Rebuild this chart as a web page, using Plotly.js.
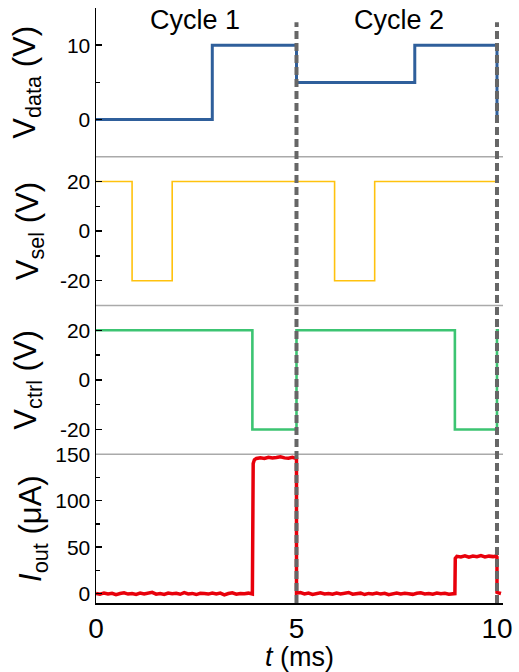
<!DOCTYPE html>
<html>
<head>
<meta charset="utf-8">
<script src="https://cdn.plot.ly/plotly-3.0.1.min.js"></script>
<style>html,body{margin:0;padding:0;background:#fff;}#chart{width:519px;height:672px;}</style>
</head>
<body>
<div id="chart"></div>
<script>
// ---- data (time in ms) ----
var tData = [0, 2.9, 5, 7.95, 10, 10.05];
var vData = [0, 10, 5, 10, 0, 0];

var tSel = [0, 0.9, 1.9, 5.95, 6.95, 10.05];
var vSel = [20, -20, 20, -20, 20, 20];

var tCtrl = [0, 3.9, 5, 8.95, 10, 10.05];
var vCtrl = [20, -20, 20, -20, 20, 20];

var tOut = [0,0.1,0.2,0.3,0.4,0.5,0.6,0.7,0.8,0.9,1.0,1.1,1.2,1.3,1.4,1.5,1.6,1.7,1.8,1.9,
            2.0,2.1,2.2,2.3,2.4,2.5,2.6,2.7,2.8,2.9,3.0,3.1,3.2,3.3,3.4,3.5,3.6,3.7,3.8,3.9,
            3.92,3.95,4.0,4.1,4.2,4.3,4.4,4.5,4.6,4.7,4.8,4.9,4.98,5.0,
            5.0,5.1,5.2,5.3,5.4,5.5,5.6,5.7,5.8,5.9,6.0,6.1,6.2,6.3,6.4,6.5,6.6,6.7,6.8,6.9,
            7.0,7.1,7.2,7.3,7.4,7.5,7.6,7.7,7.8,7.9,8.0,8.1,8.2,8.3,8.4,8.5,8.6,8.7,8.8,8.9,8.95,
            8.96,9.0,9.1,9.2,9.3,9.4,9.5,9.6,9.7,9.8,9.9,9.98,10.0,
            10.0,10.05,10.1];
var iOut = [0.3,-0.6,0.8,-0.2,0.5,-1.0,0.2,0.9,-0.4,0.1,-0.7,0.6,-0.3,0.4,1.5,-0.5,0.2,-0.8,0.7,0.0,
            0.4,-0.6,1.1,-0.2,0.3,-0.9,0.5,0.1,-0.4,0.8,-0.3,0.6,-1.2,0.2,0.9,-0.5,0.3,-0.1,0.6,-0.4,
            140,144,145.5,146.2,145.4,146.8,145.9,146.5,147.3,146.1,145.7,146.6,145.9,145.2,
            0.5,1.2,-0.3,0.6,-0.8,0.4,1.0,-0.2,0.3,-0.6,0.7,-0.4,0.2,1.3,-0.5,0.1,0.6,-0.9,0.3,-0.2,
            0.8,-0.4,0.5,-1.1,0.2,0.6,-0.3,0.4,0.0,-0.7,0.5,0.9,-0.2,0.3,-0.5,0.7,-0.1,0.4,-0.6,0.2,0.1,
            38,40.2,39.5,40.8,39.2,40.5,39.8,41.0,39.6,40.4,39.9,40.6,39.4,
            1.5,0.8,0.2];

var xTickVals = [0, 5, 10];
var xTickText = ['0', '5', '10'];
var y1TickVals = [0, 10];      var y1TickText = ['0', '10'];
var y2TickVals = [-20, 0, 20]; var y2TickText = ['-20', '0', '20'];
var y3TickVals = [-20, 0, 20]; var y3TickText = ['-20', '0', '20'];
var y4TickVals = [0, 50, 100, 150]; var y4TickText = ['0', '50', '100', '150'];
var cycleLabels = ['Cycle 1', 'Cycle 2'];
var cycleCenters = [2.47, 7.55];
var cycleBoundaries = [5, 10];

var FONT = 'Liberation Sans, Arial, sans-serif';

var traces = [
  {x: tData, y: vData, xaxis: 'x', yaxis: 'y', mode: 'lines', line: {shape: 'hv', color: '#2f5f9b', width: 3}, hoverinfo: 'skip'},
  {x: tSel, y: vSel, xaxis: 'x', yaxis: 'y2', mode: 'lines', line: {shape: 'hv', color: '#ffc20e', width: 1.6}, hoverinfo: 'skip'},
  {x: tCtrl, y: vCtrl, xaxis: 'x', yaxis: 'y3', mode: 'lines', line: {shape: 'hv', color: '#3cc472', width: 2.6}, hoverinfo: 'skip'},
  {x: tOut, y: iOut, xaxis: 'x', yaxis: 'y4', mode: 'lines', line: {color: '#e8000b', width: 3.5}, hoverinfo: 'skip'}
];

function yax(domain, range, vals, text, minorDtick, title, standoff) {
  return {
    domain: domain, range: range, tickmode: 'array', tickvals: vals, ticktext: text,
    ticks: 'inside', ticklen: 6, tickwidth: 1.5, tickcolor: '#000',
    minor: {ticks: 'inside', ticklen: 3.5, tickwidth: 1.5, tickcolor: '#000', dtick: minorDtick, tick0: 0, showgrid: false},
    showline: true, linecolor: '#000', linewidth: 1.5, showgrid: false, zeroline: false,
    tickfont: {family: FONT, size: 21, color: '#000'}, anchor: 'x', fixedrange: true,
    title: {text: title, font: {family: FONT, size: 31, color: '#000'}, standoff: standoff}
  };
}

var shapes = [
  {type: 'line', xref: 'paper', yref: 'paper', x0: 0, x1: 1, y0: 0.25, y1: 0.25, line: {color: '#aaaaaa', width: 1.5}, layer: 'below'},
  {type: 'line', xref: 'paper', yref: 'paper', x0: 0, x1: 1, y0: 0.5, y1: 0.5, line: {color: '#aaaaaa', width: 1.5}, layer: 'below'},
  {type: 'line', xref: 'paper', yref: 'paper', x0: 0, x1: 1, y0: 0.75, y1: 0.75, line: {color: '#aaaaaa', width: 1.5}, layer: 'below'}
];
cycleBoundaries.forEach(function (b) {
  shapes.push({type: 'line', xref: 'x', yref: 'paper', x0: b, x1: b, y0: 0, y1: 0.976,
    line: {color: '#666666', width: 4, dash: '8px,4px'}, layer: 'above'});
});

var annotations = cycleLabels.map(function (lab, i) {
  return {text: lab, x: cycleCenters[i], xref: 'x', y: 0.98, yref: 'paper', showarrow: false,
    xanchor: 'center', yanchor: 'middle', font: {family: FONT, size: 27, color: '#000'}};
});

var layout = {
  width: 519, height: 672,
  margin: {l: 96, r: 16, t: 8, b: 69},
  paper_bgcolor: '#fff', plot_bgcolor: 'rgba(0,0,0,0)',
  showlegend: false,
  xaxis: {
    range: [0, 10.15], anchor: 'y4', tickmode: 'array', tickvals: xTickVals, ticktext: xTickText,
    ticks: 'inside', ticklen: 6, tickwidth: 1.5, tickcolor: '#000',
    showline: true, linecolor: '#000', linewidth: 1.5, showgrid: false, zeroline: false,
    tickfont: {family: FONT, size: 28, color: '#000'}, fixedrange: true,
    title: {text: '<i>t</i> (ms)', font: {family: FONT, size: 27, color: '#000'}, standoff: 0}
  },
  yaxis: yax([0.75, 1], [-5, 15], y1TickVals, y1TickText, 5, 'V<sub>data</sub> (V)', 22),
  yaxis2: yax([0.5, 0.75], [-30, 30], y2TickVals, y2TickText, 10, 'V<sub>sel</sub> (V)', 12),
  yaxis3: yax([0.25, 0.5], [-30, 30], y3TickVals, y3TickText, 10, 'V<sub>ctrl</sub> (V)', 14),
  yaxis4: yax([0, 0.25], [-10, 150], y4TickVals, y4TickText, 25, '<i>I</i><sub>out</sub> (μA)', 4),
  shapes: shapes,
  annotations: annotations
};

Plotly.newPlot('chart', traces, layout, {staticPlot: true, displayModeBar: false});
</script>
</body>
</html>
